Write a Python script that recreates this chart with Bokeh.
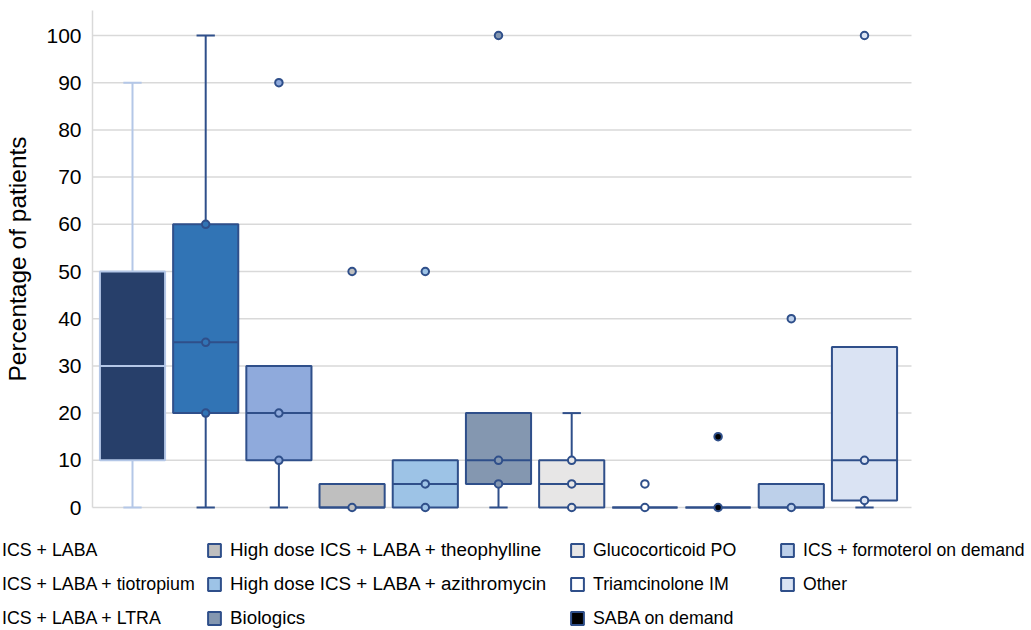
from bokeh.plotting import figure
from bokeh.models import ColumnDataSource, Range1d, FixedTicker, Legend, LegendItem
from bokeh.embed import file_html
from bokeh.resources import INLINE

# ---------------- data ----------------
categories = [
    "ICS + LABA",
    "ICS + LABA + tiotropium",
    "ICS + LABA + LTRA",
    "High dose ICS + LABA + theophylline",
    "High dose ICS + LABA + azithromycin",
    "Biologics",
    "Glucocorticoid PO",
    "Triamcinolone IM",
    "SABA on demand",
    "ICS + formoterol on demand",
    "Other",
]
whisker_low = [0, 0, 0, 0, 0, 0, 0, 0, 0, 0, 0]
q1 = [10, 20, 10, 0, 0, 5, 0, 0, 0, 0, 1.5]
median = [30, 35, 20, 0, 5, 10, 5, 0, 0, 0, 10]
q3 = [50, 60, 30, 5, 10, 20, 10, 0, 0, 5, 34]
whisker_high = [90, 100, 30, 5, 10, 20, 20, 0, 0, 5, 34]
dots = [[], [60, 35, 20], [20, 10], [0], [5, 0], [10, 5], [10, 5, 0], [0], [0], [0], [10, 1.5]]
outliers = [[], [], [90], [50], [50], [100], [], [5], [15], [40], [100]]
y_ticks = [0, 10, 20, 30, 40, 50, 60, 70, 80, 90, 100]

fill_colors = ["#273f6a", "#3174b5", "#8faadc", "#bfbfbf", "#9dc3e6", "#8497b0",
               "#e7e6e6", "#ffffff", "#000000", "#bdd0ea", "#dae3f3"]
DARK = "#2f4f8a"
line_colors = ["#b4c7e7"] + [DARK] * 10
legend_columns = [[0, 1, 2], [3, 4, 5], [6, 7, 8], [9, 10]]

# ---------------- layout constants ----------------
FONT = "Liberation Sans"
W, H = 1031, 630
PX_PER_CAT = 73.2          # horizontal pixels per category
PX_PER_UNIT = 4.72         # vertical pixels per percent
X0_PX, Y0_PX = 132, 507    # pixel position of first category centre / of y = 0
AXIS_X_PX, PLOT_RIGHT_PX = 92, 911
Y_TOP = 105.3
BOX_W = 0.89
CAP_W = 0.25

def xdata(px):
    return 1 + (px - X0_PX) / PX_PER_CAT

def ydata(py):
    return (Y0_PX - py) / PX_PER_UNIT

AXIS_X = xdata(AXIS_X_PX)
PLOT_RIGHT = xdata(PLOT_RIGHT_PX)

xs = list(range(1, len(categories) + 1))

p = figure(width=W, height=H, output_backend="svg", toolbar_location=None,
           x_range=Range1d(xdata(0), xdata(W)), y_range=Range1d(ydata(H), ydata(0)),
           x_axis_location=None,
           min_border_left=0, min_border_right=0, min_border_top=0, min_border_bottom=0,
           frame_width=W, frame_height=H)
p.outline_line_color = None
p.background_fill_color = "white"
p.border_fill_color = "white"
p.xgrid.visible = False
p.ygrid.visible = False

ax = p.yaxis[0]
ax.fixed_location = AXIS_X
ax.bounds = (0, Y_TOP)
ax.ticker = FixedTicker(ticks=y_ticks)
ax.axis_label = "Percentage of patients"
ax.axis_label_text_font = FONT
ax.axis_label_text_font_size = "24.5px"
ax.axis_label_text_font_style = "normal"
ax.axis_label_text_color = "#000000"
ax.axis_label_standoff = 12
ax.major_label_text_font = FONT
ax.major_label_text_font_size = "21px"
ax.major_label_text_color = "#000000"
ax.major_label_standoff = 11
ax.major_tick_out = 0
ax.major_tick_in = 0
ax.minor_tick_out = 0
ax.minor_tick_in = 0
ax.major_tick_line_color = None
ax.minor_tick_line_color = None
ax.axis_line_color = "#d9d9d9"
ax.axis_line_width = 1.5

# horizontal grid lines at the tick values
p.segment(x0=[AXIS_X] * len(y_ticks), x1=[PLOT_RIGHT] * len(y_ticks),
          y0=y_ticks, y1=y_ticks, line_color="#d9d9d9", line_width=1.5)

# whiskers (only where they extend beyond the box)
wx, wy0, wy1, wc = [], [], [], []
cx0, cx1, cy, cc = [], [], [], []
for i, x in enumerate(xs):
    if whisker_low[i] < q1[i]:
        wx.append(x); wy0.append(whisker_low[i]); wy1.append(q1[i]); wc.append(line_colors[i])
        cx0.append(x - CAP_W / 2); cx1.append(x + CAP_W / 2); cy.append(whisker_low[i]); cc.append(line_colors[i])
    if whisker_high[i] > q3[i]:
        wx.append(x); wy0.append(q3[i]); wy1.append(whisker_high[i]); wc.append(line_colors[i])
        cx0.append(x - CAP_W / 2); cx1.append(x + CAP_W / 2); cy.append(whisker_high[i]); cc.append(line_colors[i])

p.segment(x0=wx, y0=wy0, x1=wx, y1=wy1, line_color=wc, line_width=2)
p.segment(x0=cx0, y0=cy, x1=cx1, y1=cy, line_color=cc, line_width=2)

box_src = ColumnDataSource(dict(x=xs, q1=q1, q3=q3, fill=fill_colors, line=line_colors))
boxes = p.vbar(x="x", width=BOX_W, bottom="q1", top="q3", source=box_src,
               fill_color="fill", line_color="line", line_width=2)

# medians
p.segment(x0=[x - BOX_W / 2 for x in xs], y0=median,
          x1=[x + BOX_W / 2 for x in xs], y1=median,
          line_color=line_colors, line_width=2)

# dots and outliers
px, py, pc = [], [], []
for i, x in enumerate(xs):
    for v in dots[i] + outliers[i]:
        px.append(x); py.append(v); pc.append(fill_colors[i])
p.scatter(x=px, y=py, size=7.5, marker="circle", fill_color=pc,
          line_color=DARK, line_width=2)

# ---------------- legend: four columns ----------------
col_text_x = [2, 230, 593, 803]
col_font = ["17.8px", "18.8px", "17.8px", "17.6px"]
ROW1_Y = 550
ITEM_H, SPACING, GLYPH, STANDOFF = 22, 12, 16, 8
for c, idxs in enumerate(legend_columns):
    n = len(idxs)
    leg_h = n * ITEM_H + (n - 1) * SPACING
    top = ROW1_Y - ITEM_H / 2
    items = [LegendItem(label=categories[i], renderers=[boxes], index=i) for i in idxs]
    lg = Legend(items=items, location=(col_text_x[c] - GLYPH - STANDOFF, H - top - leg_h),
                orientation="vertical",
                glyph_width=GLYPH, glyph_height=GLYPH, label_standoff=STANDOFF,
                spacing=SPACING, label_height=ITEM_H, padding=0, margin=0,
                border_line_color=None, background_fill_alpha=0,
                label_text_font=FONT, label_text_font_size=col_font[c],
                label_text_color="#000000", label_text_baseline="middle")
    p.add_layout(lg)

open("out.html", "w").write(file_html(p, INLINE))
